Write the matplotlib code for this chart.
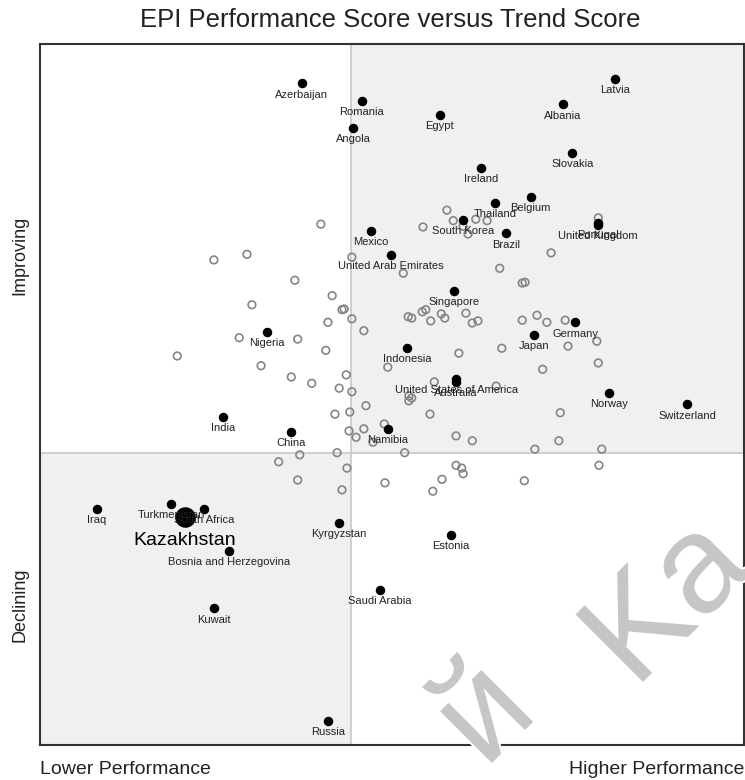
import matplotlib
matplotlib.use('Agg')
import matplotlib.pyplot as plt
import matplotlib.patheffects as pe
import numpy as np

plt.rcParams['font.family'] = ['Liberation Sans', 'DejaVu Sans']

# labelled countries: performance score (x) and trend score (y), 0-100 scale
countries = ['Azerbaijan', 'Romania', 'Angola', 'Egypt', 'Latvia', 'Albania',
             'Slovakia', 'Ireland', 'Belgium', 'Thailand', 'South Korea', 'Brazil',
             'United Kingdom', 'Portugal', 'Mexico', 'United Arab Emirates',
             'Singapore', 'Nigeria', 'Germany', 'Japan', 'Indonesia',
             'United States of America', 'Australia', 'Norway', 'Switzerland',
             'India', 'China', 'Namibia', 'Iraq', 'Turkmenistan', 'South Africa',
             'Bosnia and Herzegovina', 'Kuwait', 'Kyrgyzstan', 'Estonia',
             'Saudi Arabia', 'Russia']
perf = [37.2, 45.7, 44.5, 56.8, 81.7, 74.3,
        75.6, 62.6, 69.7, 64.6, 60.1, 66.2,
        79.3, 79.3, 47.0, 49.9,
        58.8, 32.2, 76.0, 70.2, 52.1,
        59.1, 59.1, 80.8, 91.9,
        26.0, 35.7, 49.4, 8.1, 18.6, 23.3,
        26.8, 24.7, 42.5, 58.4,
        48.3, 40.9]
trend = [94.4, 91.9, 88.0, 89.9, 95.0, 91.4,
         84.5, 82.3, 78.2, 77.3, 74.9, 73.0,
         74.2, 74.4, 73.3, 69.9,
         64.8, 58.9, 60.3, 58.5, 56.6,
         52.2, 51.8, 50.2, 48.6,
         46.8, 44.7, 45.1, 33.7, 34.4, 33.7,
         27.7, 19.5, 31.7, 30.0,
         22.1, 3.4]

# highlighted country
focus_name = 'Kazakhstan'
focus_perf = 20.6
focus_trend = 32.5

# other countries (unlabelled)
other_perf = [39.9, 24.7, 29.4, 36.2, 30.1, 41.5, 42.9, 43.2, 44.3, 44.3,
              40.9, 46.0, 28.3, 36.6, 19.5, 40.6, 31.4, 35.7, 43.5, 38.6,
              42.5, 44.3, 46.3, 41.9, 44.0, 43.9, 46.0, 44.9, 48.9, 47.3,
              52.4, 52.8, 52.4, 56.0, 55.4, 51.8, 33.9, 36.9, 42.2, 43.6,
              36.6, 42.9, 49.0, 57.1, 55.8, 59.1, 61.4, 70.3, 73.9, 73.7,
              79.8, 79.4, 59.1, 59.9, 60.1, 68.8, 51.6, 54.4, 57.8, 58.7,
              60.1, 60.8, 61.9, 63.5, 49.4, 52.3, 52.8, 54.3, 54.8, 55.5,
              57.0, 57.5, 60.5, 61.4, 62.2, 72.6, 65.3, 68.5, 68.9, 68.5,
              70.6, 72.0, 74.6, 79.1, 75.0, 65.6, 59.5, 71.4, 79.3, 64.8,
              79.3]
other_trend = [74.3, 69.2, 70.0, 66.3, 62.8, 64.1, 62.1, 62.2, 69.6, 60.8,
               60.3, 59.1, 58.1, 57.9, 55.5, 56.3, 54.1, 52.5, 52.8, 51.6,
               50.9, 50.4, 48.4, 47.2, 47.5, 44.8, 45.1, 43.9, 45.8, 43.2,
               49.1, 49.5, 49.8, 51.8, 47.2, 41.7, 40.4, 41.4, 41.7, 39.5,
               37.8, 36.4, 37.4, 37.9, 36.2, 44.1, 43.4, 42.2, 47.4, 43.4,
               42.2, 39.9, 39.9, 39.5, 38.7, 37.7, 67.3, 73.9, 76.3, 74.8,
               74.0, 72.9, 75.0, 74.8, 53.9, 61.1, 60.9, 61.8, 62.1, 60.5,
               61.5, 60.9, 61.6, 60.2, 60.5, 70.2, 68.0, 65.9, 66.0, 60.6,
               61.3, 60.3, 60.6, 57.6, 56.9, 56.6, 55.9, 53.6, 54.5, 51.2,
               75.2]

# quadrant split
perf_split = 44.2
trend_split = 41.7

fig = plt.figure(figsize=(7.45, 7.8), dpi=100)
ax = fig.add_axes([40 / 745, 35 / 780, 704 / 745, 701 / 780])
ax.set_xlim(0, 100)
ax.set_ylim(0, 100)

# shaded quadrants
ax.axvspan(perf_split, 100, ymin=trend_split / 100, ymax=1, color='#f0f0f0', lw=0, zorder=0)
ax.axvspan(0, perf_split, ymin=0, ymax=trend_split / 100, color='#f0f0f0', lw=0, zorder=0)
ax.axvline(perf_split, color='#c8c8c8', lw=1.2, zorder=1)
ax.axhline(trend_split, color='#c8c8c8', lw=1.2, zorder=1)

ax.scatter(other_perf, other_trend, s=30, facecolors='none', edgecolors='#858585',
           linewidths=1.2, zorder=2)
ax.scatter(perf, trend, s=34, color='black', zorder=3)
ax.scatter([focus_perf], [focus_trend], s=190, color='black', zorder=3)

for name, x, y in zip(countries, perf, trend):
    ax.annotate(name, (x, y), xytext=(0, -4.5), textcoords='offset points',
                ha='center', va='top', fontsize=8, color='#222222', zorder=4)
ax.annotate(focus_name, (focus_perf, focus_trend), xytext=(0, -10.5), textcoords='offset points',
            ha='center', va='top', fontsize=14, color='black', zorder=4)

ax.set_xticks([])
ax.set_yticks([])
for sp in ax.spines.values():
    sp.set_color('#333333')
    sp.set_linewidth(1.5)

fig.text(390 / 745, 1 - 20 / 780, 'EPI Performance Score versus Trend Score',
         ha='center', va='center', fontsize=18.5, color='#222222')
fig.text(40 / 745, 1 - 770 / 780, 'Lower Performance', ha='left', va='center',
         fontsize=14, color='#222222')
fig.text(744 / 745, 1 - 770 / 780, 'Higher Performance', ha='right', va='center',
         fontsize=14, color='#222222')
fig.text(20 / 745, 1 - 255 / 780, 'Improving', rotation=90, ha='center', va='center',
         fontsize=13, color='#222222')
fig.text(20 / 745, 1 - 605 / 780, 'Declining', rotation=90, ha='center', va='center',
         fontsize=13, color='#222222')

# watermark
wm = dict(fontsize=100, color='#c6c6c6', rotation=45, rotation_mode='anchor',
          va='baseline', zorder=10,
          path_effects=[pe.withStroke(linewidth=3, foreground='white')])
fig.text(635 / 745, 1 - 690 / 780, 'Ka', ha='left', **wm)
fig.text(540 / 745, 1 - 715 / 780, 'й', ha='right', **wm)

fig.savefig('out.png', dpi=100)
